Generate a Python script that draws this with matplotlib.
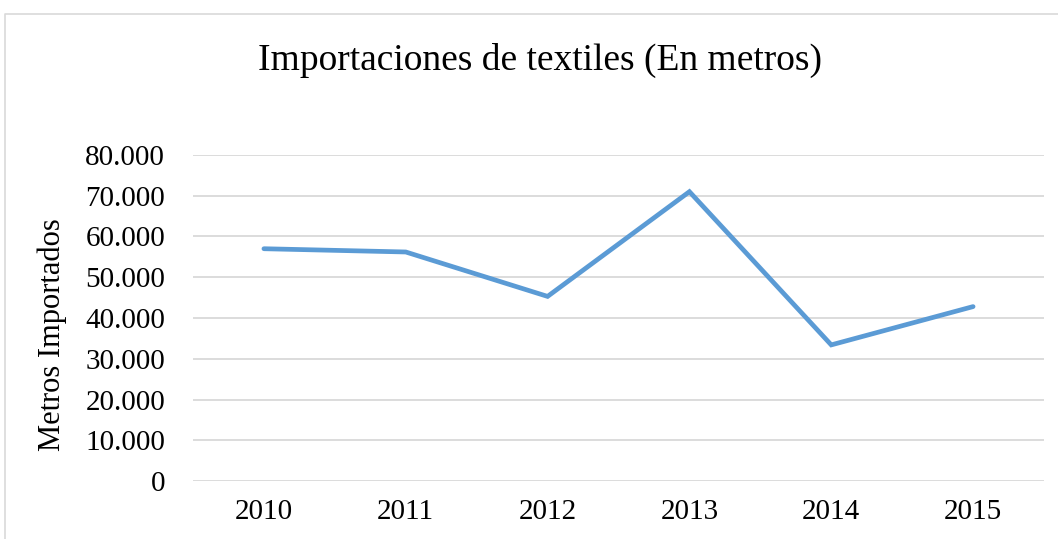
import matplotlib
matplotlib.use("Agg")
import matplotlib.pyplot as plt
from matplotlib.lines import Line2D
from matplotlib.ticker import FuncFormatter

years = ["2010", "2011", "2012", "2013", "2014", "2015"]
metros = [57000, 56200, 45300, 71000, 33400, 42800]
yticks = [0, 10000, 20000, 30000, 40000, 50000, 60000, 70000, 80000]

plt.rcParams['font.family'] = ['Liberation Serif', 'DejaVu Serif']

W, H = 1058, 539
fig = plt.figure(figsize=(W / 100, H / 100), dpi=100)
ax = fig.add_axes([193 / W, 1 - 481 / H, (1044 - 193) / W, (481 - 155) / H])

x = list(range(len(years)))
ax.plot(x, metros, color="#5B9BD5", linewidth=3.4, solid_capstyle="round", solid_joinstyle="miter")
ax.set_xlim(-0.5, len(years) - 0.5)
ax.set_ylim(0, 80000)
ax.set_yticks(yticks)
ax.yaxis.set_major_formatter(FuncFormatter(lambda v, p: "0" if v == 0 else f"{int(v):,}".replace(",", ".")))
ax.set_xticks(x)
ax.set_xticklabels(years)
ax.grid(axis="y", color="#D9D9D9", linewidth=1.3)
ax.set_axisbelow(True)
for s in ax.spines.values():
    s.set_visible(False)
ax.tick_params(axis="both", length=0, labelsize=21, colors="black")
ax.tick_params(axis="y", pad=20)
ax.tick_params(axis="x", pad=13)

fig.text(52 / W, 1 - 335 / H, "Metros Importados", fontsize=22, rotation=90,
         ha="center", va="center")

fig.text(540 / W, 1 - 60 / H, "Importaciones de textiles (En metros)", fontsize=27,
         ha="center", va="center")

bx, by = 5 / W, 1 - 14 / H
fig.add_artist(Line2D([bx, bx, 1.0], [0.0, by, by], transform=fig.transFigure,
                      color="#D9D9D9", linewidth=1.2))

fig.savefig("out.png", dpi=100, facecolor="white")
